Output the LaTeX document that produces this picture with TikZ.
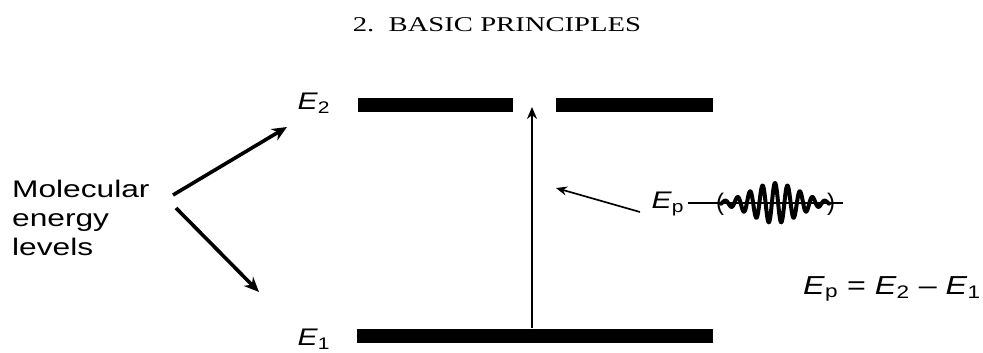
\documentclass[tikz,border=0pt]{standalone}
\usepackage{fontspec}
\setmainfont{Liberation Sans}
\newfontfamily\serifhdr{Liberation Serif}
\usepackage{graphicx}
\usetikzlibrary{arrows.meta}
\newcommand{\En}[1]{\textit{E}\textsubscript{#1}}
\newcommand{\hs}[1]{\scalebox{1.25}[1]{#1}}
\newcommand{\hm}[1]{\scalebox{1.32}[1]{#1}}
\begin{document}
\begin{tikzpicture}[x=1pt,y=-1pt,
  bar/.style={fill=black, draw=none, inner sep=0pt, minimum height=14pt},
  lbl/.style={inner sep=0pt, font=\fontsize{24}{29}\selectfont},
  bigarrow/.style={line width=3.6pt, -{Stealth[length=15pt,width=13pt]}},
  thinarrow/.style={line width=1.9pt, -{Stealth[length=12pt,width=10pt]}},
  midarrow/.style={line width=1.7pt, -{Stealth[length=11pt,width=9pt]}}]
\useasboundingbox (0,0) rectangle (983,353);
% header
\node[inner sep=0pt, font=\serifhdr\fontsize{21}{24}\selectfont] (hdr) at (497,25) {\scalebox{1.365}[1]{2.\ \ BASIC PRINCIPLES}};
% energy bars
\node[bar, minimum width=155pt] (e2a) at (435.5,105) {};
\node[bar, minimum width=157pt] (e2b) at (634.5,105) {};
\node[bar, minimum width=356pt] (e1) at (535,335.5) {};
% labels
\node[lbl] (le2) at (314,103) {\hs{\En{2}}};
\node[lbl] (le1) at (314,339) {\hs{\En{1}}};
\node[lbl, align=left, anchor=north west] (mol) at (12,180) {\hm{Molecular}\\\hm{energy}\\\hm{levels}};
% vertical transition arrow
\coordinate (ptip) at (532,107);
\draw[thinarrow] (e1.north -| ptip) -- (ptip);
% arrows from label
\coordinate (m1) at (173,195);
\coordinate (m2) at (176,208);
\coordinate (t1) at (287,127);
\coordinate (t2) at (259,292);
\draw[bigarrow] (m1) -- (t1);
\draw[bigarrow] (m2) -- (t2);
% photon
\node[lbl] (ep) at (668,204) {\hs{\En{p}}};
\coordinate (ept) at (640,212);
\coordinate (sa) at (556,188);
\draw[midarrow] (ept) -- (sa);
\coordinate (wstart) at (688,203);
\coordinate (wend) at (843,203);
\draw[line width=1.6pt] (wstart) -- (wend);
\draw[line width=4pt, line join=round, line cap=round]
  plot[domain=721:829, samples=400, smooth]
  (\x, {203 - 20*exp(-1*((\x-775)/34)*((\x-775)/34))*cos(28.8*(\x-775))});
\node[lbl] (lp) at (720,204) {(};
\node[lbl] (rp) at (831,204) {)};
% equation
\node[lbl, anchor=west, font=\fontsize{26}{30}\selectfont] (eq) at (803,289) {\scalebox{1.24}[1]{\En{p} = \En{2} -- \En{1}}};
\end{tikzpicture}
\end{document}
